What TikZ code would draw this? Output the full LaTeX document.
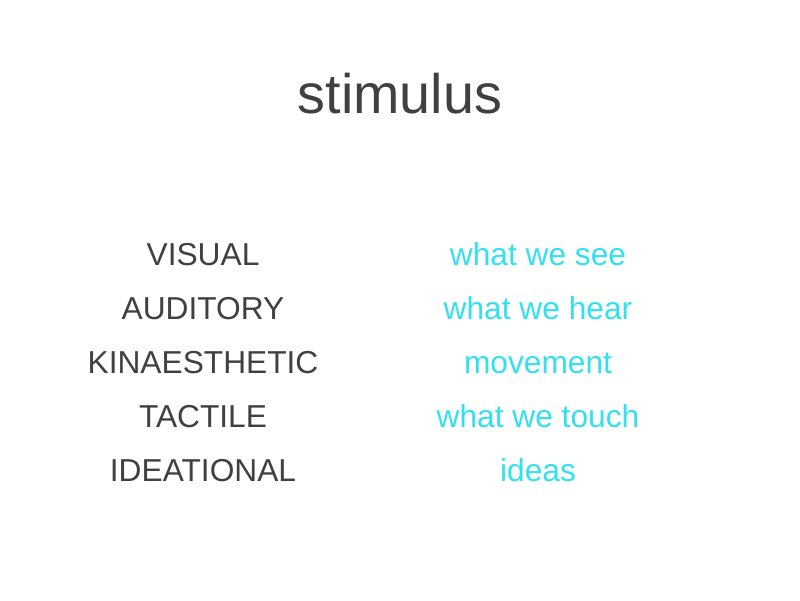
\documentclass[tikz,border=0pt]{standalone}
\usepackage{fontspec}
\setmainfont{Liberation Sans}
\definecolor{txt}{HTML}{404040}
\definecolor{cy}{HTML}{33E0F0}
\begin{document}
\begin{tikzpicture}[x=1pt,y=-1pt,
  lab/.style={text=txt,font=\fontsize{31.7}{34}\selectfont,anchor=base},
  val/.style={text=cy,font=\fontsize{31.7}{34}\selectfont,anchor=base}]
\useasboundingbox (0,0) rectangle (800,600);
\node[text=txt,font=\fontsize{55.7}{60}\selectfont,anchor=base] (t) at (400,113) {stimulus};
\node[lab] (l1) at (203,265) {VISUAL};
\node[lab] (l2) at (203,319) {AUDITORY};
\node[lab] (l3) at (203,373) {KINAESTHETIC};
\node[lab] (l4) at (203,427) {TACTILE};
\node[lab] (l5) at (203,481) {IDEATIONAL};
\node[val] (r1) at (538,265) {what we see};
\node[val] (r2) at (538,319) {what we hear};
\node[val] (r3) at (538,373) {movement};
\node[val] (r4) at (538,427) {what we touch};
\node[val] (r5) at (538,481) {ideas};
\end{tikzpicture}
\end{document}
